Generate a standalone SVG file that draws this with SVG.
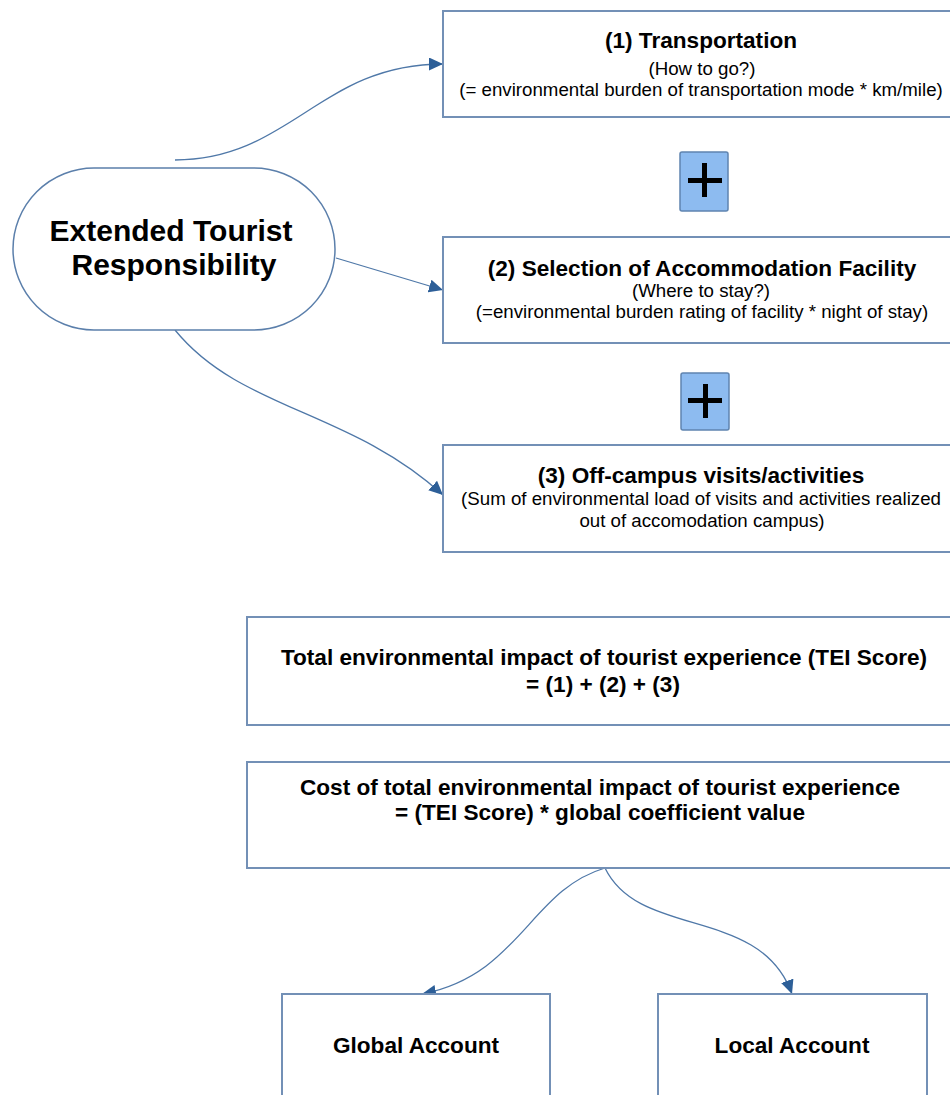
<svg xmlns="http://www.w3.org/2000/svg" width="950" height="1095" viewBox="0 0 950 1095">
<style>
.box{fill:#ffffff;stroke:#7390b6;stroke-width:2}
.oval{fill:#ffffff;stroke:#5b7fab;stroke-width:1.5}
.plus{fill:#8dbbf0;stroke:#5f84b0;stroke-width:1.5}
.conn{fill:none;stroke:#4f78a8;stroke-width:1.3}
.t{font-family:"Liberation Sans",Arial,sans-serif;fill:#000;text-anchor:middle}
.b{font-weight:bold;font-size:22.6px}
.r{font-size:18.7px}
.big{font-weight:bold;font-size:30px}
</style>
<defs>
<marker id="ah" markerUnits="userSpaceOnUse" markerWidth="16" markerHeight="14" refX="14" refY="6.5" orient="auto">
<path d="M0,0 L14,6.5 L0,13 z" fill="#2d5f98"/>
</marker>
</defs>
<g id="connectors">
<path class="conn" d="M175,160 C290,160 320,64 443,64" marker-end="url(#ah)"/>
<path class="conn" d="M336,258 L443,290" marker-end="url(#ah)"/>
<path class="conn" d="M175,330 C240,410 350,410 443,495" marker-end="url(#ah)"/>
<path class="conn" d="M605,868 C530,890 520,975 422,994" marker-end="url(#ah)"/>
<path class="conn" d="M605,868 C640,940 760,905 792,994" marker-end="url(#ah)"/>
</g>
<g id="node-etr">
<rect class="oval" x="13" y="168" width="322" height="162" rx="81" ry="81"/>
<text class="t big" x="171" y="241">Extended Tourist</text>
<text class="t big" x="174" y="275">Responsibility</text>
</g>
<g id="node-transport">
<rect class="box" x="443" y="11" width="518" height="106"/>
<text class="t b" x="701" y="48">(1) Transportation</text>
<text class="t r" x="702" y="75">(How to go?)</text>
<text class="t r" x="701" y="96">(= environmental burden of transportation mode * km/mile)</text>
</g>
<g id="plus-1">
<rect class="plus" x="680" y="152" width="48" height="59" rx="2"/>
<rect x="688" y="178" width="34" height="5" fill="#000"/>
<rect x="702" y="163" width="5" height="34" fill="#000"/>
</g>
<g id="node-accommodation">
<rect class="box" x="443" y="237" width="518" height="106"/>
<text class="t b" x="702" y="276">(2) Selection of Accommodation Facility</text>
<text class="t r" x="701" y="297">(Where to stay?)</text>
<text class="t r" x="702" y="318">(=environmental burden rating of facility * night of stay)</text>
</g>
<g id="plus-2">
<rect class="plus" x="681" y="373" width="48" height="57" rx="2"/>
<rect x="688" y="398" width="34" height="5" fill="#000"/>
<rect x="703" y="384" width="5" height="34" fill="#000"/>
</g>
<g id="node-offcampus">
<rect class="box" x="443" y="445" width="518" height="107"/>
<text class="t b" x="701" y="483">(3) Off-campus visits/activities</text>
<text class="t r" x="701" y="505">(Sum of environmental load of visits and activities realized</text>
<text class="t r" x="702" y="527">out of accomodation campus)</text>
</g>
<g id="node-total">
<rect class="box" x="247" y="617" width="714" height="108"/>
<text class="t b" x="604" y="665">Total environmental impact of tourist experience (TEI Score)</text>
<text class="t b" x="603" y="692">= (1) + (2) + (3)</text>
</g>
<g id="node-cost">
<rect class="box" x="247" y="762" width="714" height="106"/>
<text class="t b" x="600" y="795">Cost of total environmental impact of tourist experience</text>
<text class="t b" x="600" y="820">= (TEI Score) * global coefficient value</text>
</g>
<g id="node-global">
<rect class="box" x="282" y="994" width="268" height="120"/>
<text class="t b" x="416" y="1053">Global Account</text>
</g>
<g id="node-local">
<rect class="box" x="658" y="994" width="269" height="120"/>
<text class="t b" x="792" y="1053">Local Account</text>
</g>
</svg>
